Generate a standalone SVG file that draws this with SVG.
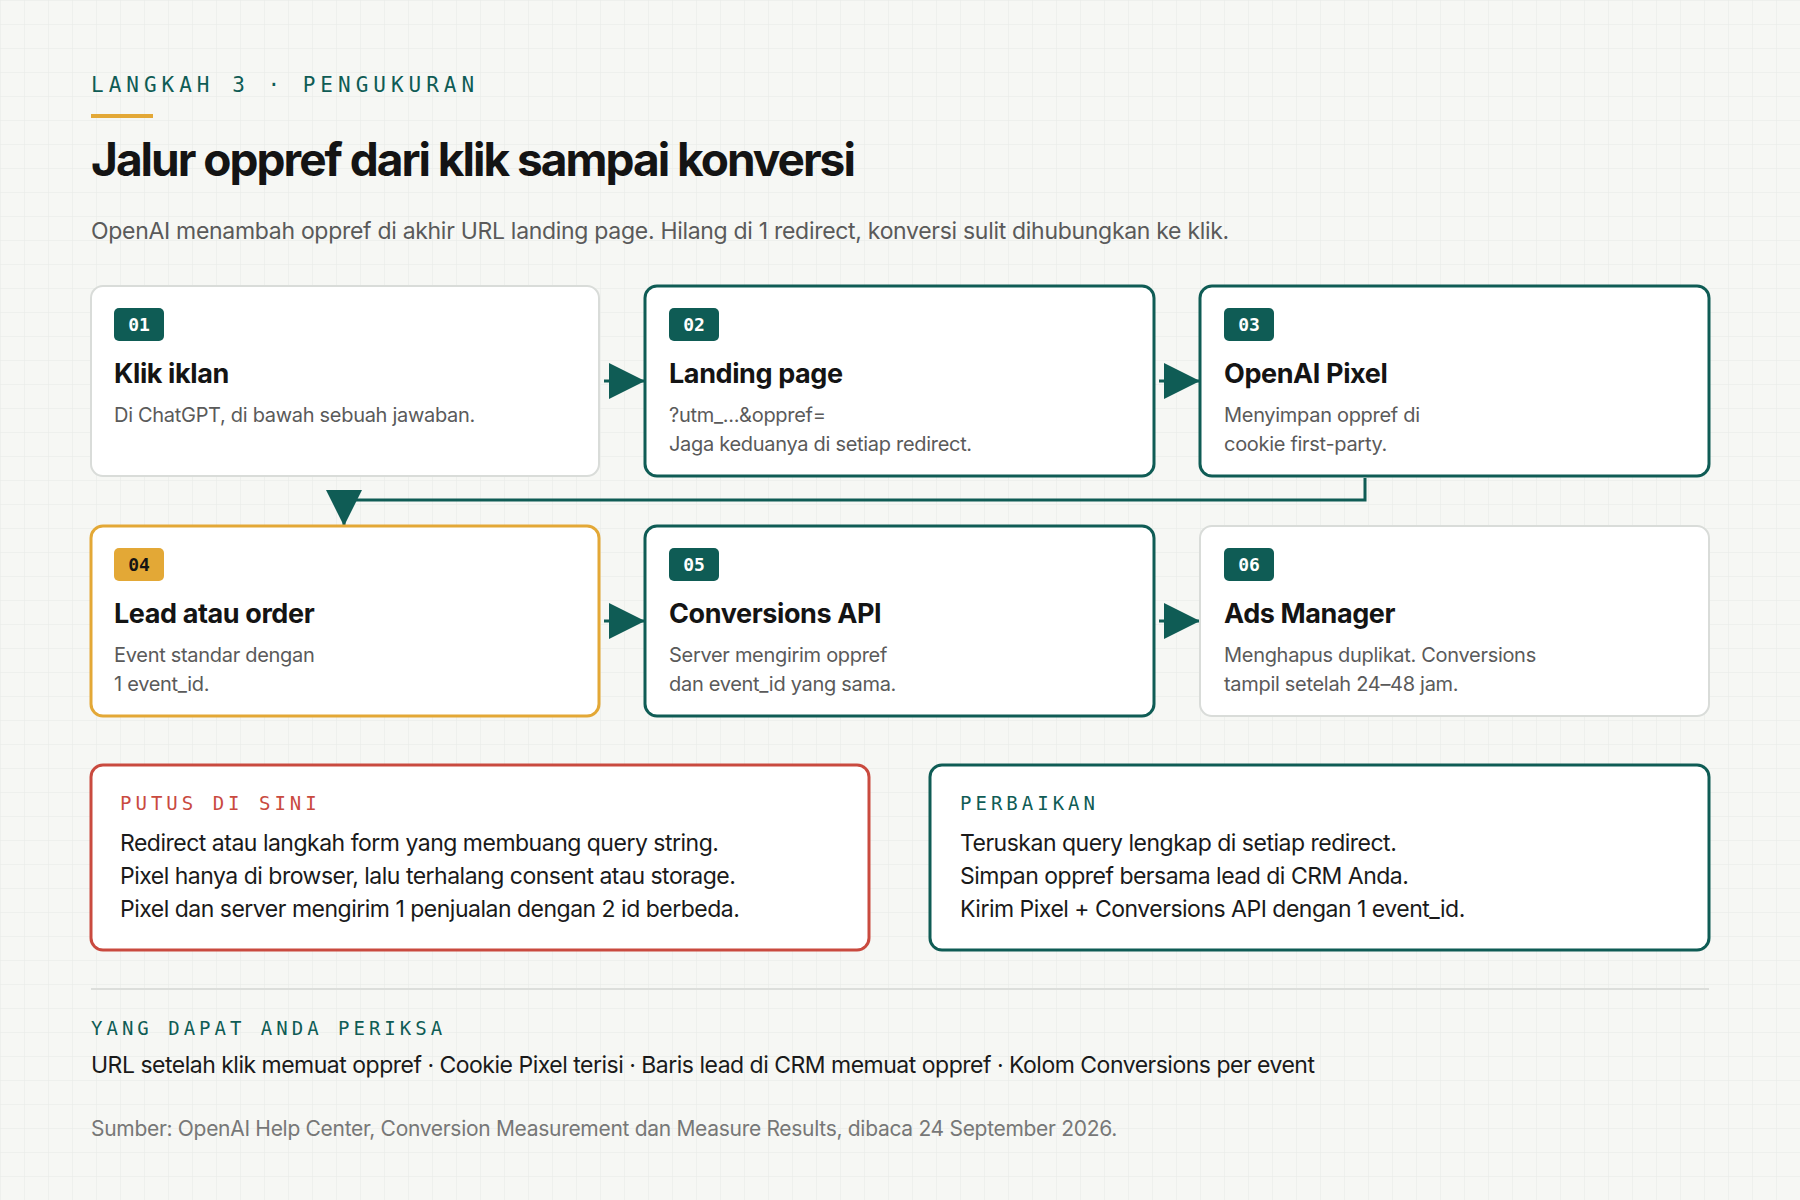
<svg xmlns="http://www.w3.org/2000/svg" width="1800" height="1200" viewBox="0 0 1800 1200">
<defs>
<pattern id="grid" width="24" height="24" patternUnits="userSpaceOnUse"><path d="M24 0H0V24" fill="none" stroke="#e6e9e6" stroke-width="1"/></pattern>
<marker id="ah" viewBox="0 0 10 10" refX="10" refY="5" markerWidth="36" markerHeight="36" markerUnits="userSpaceOnUse" orient="auto"><path d="M0 0L10 5L0 10z" fill="#0f5c55"/></marker>
</defs>
<style>
.box{fill:#fff;stroke-width:3}
.t{stroke:#0f5c55}.g{stroke:#d9dcd9;stroke-width:2}.o{stroke:#e3a836}.r{stroke:#c94a3f}
.badge{fill:#0f5c55}
.bt{font-family:"DejaVu Sans Mono",monospace;font-size:18px;fill:#fff;font-weight:bold}
.h{font-family:Inter,"Liberation Sans",sans-serif;font-weight:700;font-size:27px;fill:#141414;letter-spacing:-0.4px}
.d{font-family:Inter,"Liberation Sans",sans-serif;font-size:20px;fill:#5a5a5a;letter-spacing:-0.3px}
.b{font-family:Inter,"Liberation Sans",sans-serif;font-size:23px;fill:#1a1a1a;letter-spacing:-0.5px}
.mono{font-family:"DejaVu Sans Mono",monospace;font-size:19px;letter-spacing:4px}
</style>
<rect width="1800" height="1200" fill="#f6f7f4"/>
<rect width="1800" height="1200" fill="url(#grid)"/>
<text x="91" y="92" class="mono" fill="#0f5c55" style="font-size:21px;letter-spacing:5px">LANGKAH 3 · PENGUKURAN</text>
<rect x="91" y="114" width="62" height="4" fill="#e3a836"/>
<text x="91" y="176" font-family="Inter,'Liberation Sans',sans-serif" font-weight="700" font-size="46" fill="#141414" letter-spacing="-2">Jalur oppref dari klik sampai konversi</text>
<text x="91" y="239" font-family="Inter,'Liberation Sans',sans-serif" font-size="23" fill="#5a5a5a" letter-spacing="-0.3">OpenAI menambah oppref di akhir URL landing page. Hilang di 1 redirect, konversi sulit dihubungkan ke klik.</text>

<g id="connectors" stroke="#0f5c55" stroke-width="3" fill="none">
<line x1="604" y1="381" x2="645" y2="381" marker-end="url(#ah)"/>
<line x1="1159" y1="381" x2="1200" y2="381" marker-end="url(#ah)"/>
<path d="M1365 478V500H344V526" marker-end="url(#ah)"/>
<line x1="604" y1="621" x2="645" y2="621" marker-end="url(#ah)"/>
<line x1="1159" y1="621" x2="1200" y2="621" marker-end="url(#ah)"/>
</g>

<g id="n1"><rect x="91" y="286" width="508" height="190" rx="12" class="box g"/><rect x="114" y="308" width="50" height="33" rx="5" class="badge"/><text x="139" y="331" text-anchor="middle" class="bt">01</text><text x="114" y="383" class="h">Klik iklan</text><text x="114" y="422" class="d">Di ChatGPT, di bawah sebuah jawaban.</text></g>
<g id="n2"><rect x="645" y="286" width="509" height="190" rx="12" class="box t"/><rect x="669" y="308" width="50" height="33" rx="5" class="badge"/><text x="694" y="331" text-anchor="middle" class="bt">02</text><text x="669" y="383" class="h">Landing page</text><text x="669" y="422" class="d">?utm_...&amp;oppref=</text><text x="669" y="451" class="d">Jaga keduanya di setiap redirect.</text></g>
<g id="n3"><rect x="1200" y="286" width="509" height="190" rx="12" class="box t"/><rect x="1224" y="308" width="50" height="33" rx="5" class="badge"/><text x="1249" y="331" text-anchor="middle" class="bt">03</text><text x="1224" y="383" class="h">OpenAI Pixel</text><text x="1224" y="422" class="d">Menyimpan oppref di</text><text x="1224" y="451" class="d">cookie first-party.</text></g>
<g id="n4"><rect x="91" y="526" width="508" height="190" rx="12" class="box o"/><rect x="114" y="548" width="50" height="33" rx="5" fill="#e3a836"/><text x="139" y="571" text-anchor="middle" class="bt" style="fill:#141414">04</text><text x="114" y="623" class="h">Lead atau order</text><text x="114" y="662" class="d">Event standar dengan</text><text x="114" y="691" class="d">1 event_id.</text></g>
<g id="n5"><rect x="645" y="526" width="509" height="190" rx="12" class="box t"/><rect x="669" y="548" width="50" height="33" rx="5" class="badge"/><text x="694" y="571" text-anchor="middle" class="bt">05</text><text x="669" y="623" class="h">Conversions API</text><text x="669" y="662" class="d">Server mengirim oppref</text><text x="669" y="691" class="d">dan event_id yang sama.</text></g>
<g id="n6"><rect x="1200" y="526" width="509" height="190" rx="12" class="box g"/><rect x="1224" y="548" width="50" height="33" rx="5" class="badge"/><text x="1249" y="571" text-anchor="middle" class="bt">06</text><text x="1224" y="623" class="h">Ads Manager</text><text x="1224" y="662" class="d">Menghapus duplikat. Conversions</text><text x="1224" y="691" class="d">tampil setelah 24–48 jam.</text></g>

<g id="putus"><rect x="91" y="765" width="778" height="185" rx="12" class="box r"/><text x="120" y="810" class="mono" fill="#c94a3f">PUTUS DI SINI</text><text x="120" y="851" class="b">Redirect atau langkah form yang membuang query string.</text><text x="120" y="884" class="b">Pixel hanya di browser, lalu terhalang consent atau storage.</text><text x="120" y="917" class="b">Pixel dan server mengirim 1 penjualan dengan 2 id berbeda.</text></g>
<g id="perbaikan"><rect x="930" y="765" width="779" height="185" rx="12" class="box t"/><text x="960" y="810" class="mono" fill="#0f5c55">PERBAIKAN</text><text x="960" y="851" class="b">Teruskan query lengkap di setiap redirect.</text><text x="960" y="884" class="b">Simpan oppref bersama lead di CRM Anda.</text><text x="960" y="917" class="b">Kirim Pixel + Conversions API dengan 1 event_id.</text></g>

<line x1="91" y1="989" x2="1709" y2="989" stroke="#dcdedb" stroke-width="2"/>
<text x="91" y="1035" class="mono" fill="#0f5c55">YANG DAPAT ANDA PERIKSA</text>
<text x="91" y="1073" class="b">URL setelah klik memuat oppref · Cookie Pixel terisi · Baris lead di CRM memuat oppref · Kolom Conversions per event</text>
<text x="91" y="1136" font-family="Inter,'Liberation Sans',sans-serif" font-size="21" fill="#777" letter-spacing="-0.3">Sumber: OpenAI Help Center, Conversion Measurement dan Measure Results, dibaca 24 September 2026.</text>
</svg>
